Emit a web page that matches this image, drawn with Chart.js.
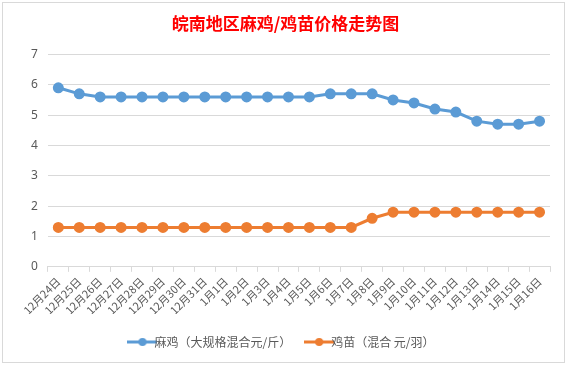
<!DOCTYPE html>
<html><head><meta charset="utf-8">
<script src="https://cdn.jsdelivr.net/npm/chart.js@4"></script>
<style>html,body{margin:0;padding:0;background:#fff;}#wrap{position:absolute;left:0;top:0;width:567px;height:366px;}</style>
</head><body><div id="wrap"><canvas id="c" width="567" height="366"></canvas></div>
<script>
const categories = ["12月24日","12月25日","12月26日","12月27日","12月28日","12月29日","12月30日","12月31日","1月1日","1月2日","1月3日","1月4日","1月5日","1月6日","1月7日","1月8日","1月9日","1月10日","1月11日","1月12日","1月13日","1月14日","1月15日","1月16日"];
const maji = [5.9,5.7,5.6,5.6,5.6,5.6,5.6,5.6,5.6,5.6,5.6,5.6,5.6,5.7,5.7,5.7,5.5,5.4,5.2,5.1,4.8,4.7,4.7,4.8];
const jimiao = [1.3,1.3,1.3,1.3,1.3,1.3,1.3,1.3,1.3,1.3,1.3,1.3,1.3,1.3,1.3,1.6,1.8,1.8,1.8,1.8,1.8,1.8,1.8,1.8];
const seriesNames = ["麻鸡（大规格混合元/斤）","鸡苗（混合 元/羽）"];
const titleText = "皖南地区麻鸡/鸡苗价格走势图";
const yTicks = [0,1,2,3,4,5,6,7];
const BLUE = "#5B9BD5", ORANGE = "#ED7D31";

function legendIcon(color){
  const c = document.createElement('canvas'); c.width = 30; c.height = 10;
  const g = c.getContext('2d');
  g.strokeStyle = color; g.lineWidth = 3; g.beginPath(); g.moveTo(0,5); g.lineTo(30,5); g.stroke();
  g.fillStyle = color; g.beginPath(); g.arc(15,5,4,0,Math.PI*2); g.fill();
  return c;
}
const frame = {
  id:'frame',
  beforeDraw(chart){
    const g = chart.ctx; g.save();
    g.fillStyle = '#fff'; g.fillRect(0,0,chart.width,chart.height);
    g.strokeStyle = '#d9d9d9'; g.lineWidth = 1;
    g.strokeRect(2.5,2.5,562,360);
    g.restore();
  }
};
new Chart(document.getElementById('c'), {
  type:'line',
  data:{labels:categories, datasets:[
    {label:seriesNames[0], data:maji, borderColor:BLUE, backgroundColor:BLUE, borderWidth:3, pointRadius:4, pointHoverRadius:4, tension:0},
    {label:seriesNames[1], data:jimiao, borderColor:ORANGE, backgroundColor:ORANGE, borderWidth:3, pointRadius:4, pointHoverRadius:4, tension:0}
  ]},
  options:{
    responsive:false, animation:false, devicePixelRatio:1,
    layout:{padding:{left:21,right:17,top:9,bottom:8}},
    plugins:{
      title:{display:true, text:titleText, color:'#FF0000', font:{family:'"Noto Sans CJK SC"', size:17, weight:'bold'}, padding:{top:4,bottom:21}},
      legend:{position:'bottom', labels:{color:'#595959', font:{family:'"Noto Sans CJK SC"', size:12}, usePointStyle:true, padding:22,
        generateLabels(chart){
          return chart.data.datasets.map((d,i)=>({text:d.label, pointStyle:legendIcon(d.borderColor), fillStyle:d.borderColor, strokeStyle:d.borderColor, lineWidth:0, datasetIndex:i, hidden:false, fontColor:'#595959'}));
        }}},
      tooltip:{enabled:false}
    },
    scales:{
      x:{offset:true, grid:{display:true, offset:true, drawOnChartArea:false, drawTicks:true, tickLength:5, color:'#d9d9d9'}, border:{display:true, color:'#d9d9d9'},
        afterFit(ax){ ax.height -= 6; },
        ticks:{color:'#595959', font:{family:'"Noto Sans CJK SC"', size:11}, minRotation:45, maxRotation:45, autoSkip:false, padding:3}},
      y:{min:0, max:7, afterBuildTicks(ax){ax.ticks = yTicks.map(v=>({value:v}));}, grid:{color:'#d9d9d9', drawTicks:false}, border:{display:false},
        ticks:{color:'#595959', font:{family:'"Noto Sans"', size:12}, padding:10}}
    }
  },
  plugins:[frame]
});
</script></body></html>
